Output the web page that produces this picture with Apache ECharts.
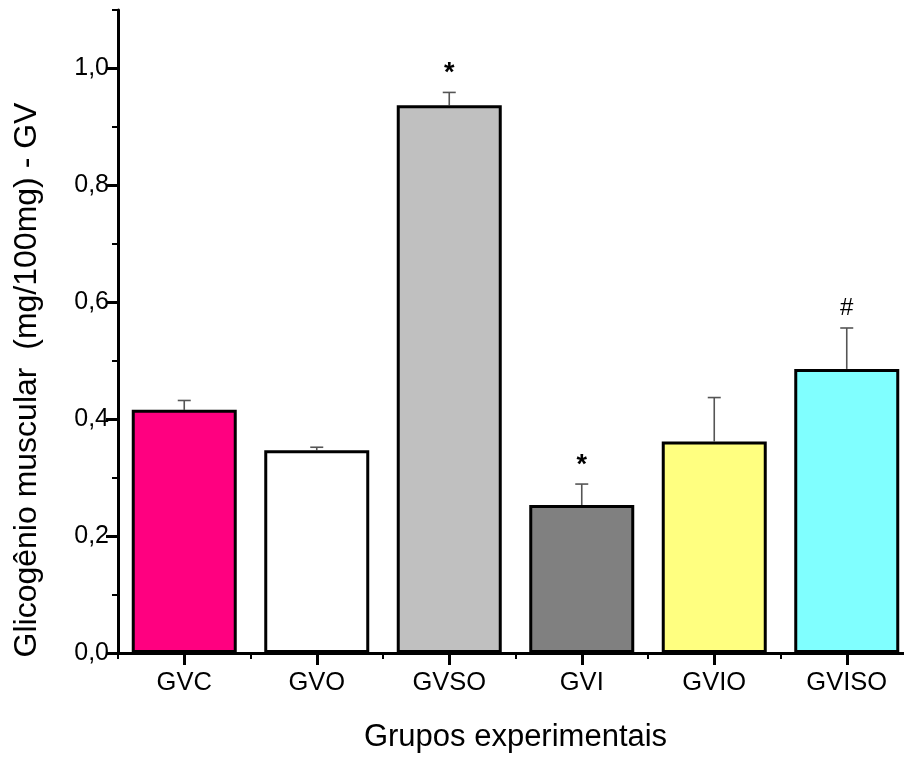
<!DOCTYPE html>
<html>
<head>
<meta charset="utf-8">
<script src="https://cdn.jsdelivr.net/npm/echarts@6/dist/echarts.min.js"></script>
<style>
html, body { margin: 0; padding: 0; background: #fff; overflow: hidden; }
#chart { width: 913px; height: 758px; }
</style>
</head>
<body>
<div id="chart"></div>
<script>
var grupos = ['GVC', 'GVO', 'GVSO', 'GVI', 'GVIO', 'GVISO'];
var medias = [0.416, 0.347, 0.937, 0.253, 0.362, 0.486];
var erros = [0.016, 0.005, 0.022, 0.036, 0.075, 0.070];
var marcas = ['', '', '*', '*', '', '#'];
var cores = ['#ff0080', '#ffffff', '#c0c0c0', '#808080', '#ffff80', '#80ffff'];
var ticksMaiores = [0, 0.2, 0.4, 0.6, 0.8, 1.0];
var ticksMenores = [0.1, 0.3, 0.5, 0.7, 0.9, 1.1];

var fonte = '"Liberation Sans", Arial, sans-serif';
// a area do grafico passa um pouco da borda direita, como no original
var chart = echarts.init(document.getElementById('chart'));

var barData = [];
for (var i = 0; i < medias.length; i++) {
	barData.push({
		value: medias[i],
		itemStyle: { color: cores[i] }
	});
}
var errData = [];
for (var j = 0; j < medias.length; j++) {
	errData.push([j, medias[j], medias[j] + erros[j], marcas[j]]);
}

var option = {
	animation: false,
	backgroundColor: '#fff',
	textStyle: { fontFamily: fonte },
	grid: { left: 118, top: 10, right: 0, bottom: 103 },
	graphic: [{
		type: 'text',
		x: 27,
		y: 380,
		rotation: Math.PI / 2,
		style: {
			text: 'Glicogênio muscular  (mg/100mg) - GV',
			font: '32px ' + fonte,
			fill: '#000',
			align: 'center',
			verticalAlign: 'middle'
		}
	}],
	xAxis: [{
		type: 'category',
		data: grupos,
		position: 'bottom',
		axisLine: { lineStyle: { color: '#000', width: 3 } },
		axisTick: { show: true, alignWithLabel: false, length: 6, lineStyle: { color: '#000', width: 2 } },
		axisLabel: { show: false },
		splitLine: { show: false }
	}, {
		type: 'category',
		data: grupos,
		position: 'bottom',
		axisLine: { show: false },
		axisTick: { show: true, alignWithLabel: true, length: 12, lineStyle: { color: '#000', width: 3 } },
		axisLabel: { fontSize: 25.5, color: '#000', margin: 17, fontFamily: fonte },
		name: 'Grupos experimentais',
		nameLocation: 'middle',
		nameGap: 69,
		nameTextStyle: { fontSize: 31, color: '#000', fontFamily: fonte },
		splitLine: { show: false }
	}],
	yAxis: [{
		type: 'value',
		min: 0,
		max: 1.1,
		axisLine: { show: true, lineStyle: { color: '#000', width: 3 } },
		axisTick: { show: true, customValues: ticksMenores, length: 6, lineStyle: { color: '#000', width: 2 } },
		axisLabel: {
			customValues: ticksMaiores,
			fontSize: 25,
			color: '#000',
			margin: 9,
			fontFamily: fonte,
			formatter: function(v) {
				return v.toFixed(1).replace('.', ',');
			}
		},
		splitLine: { show: false }
	}, {
		type: 'value',
		min: 0,
		max: 1.1,
		position: 'left',
		axisLine: { show: false },
		axisTick: { show: true, customValues: ticksMaiores, length: 12, lineStyle: { color: '#000', width: 3 } },
		axisLabel: { show: false },
		splitLine: { show: false }
	}],
	series: [{
		name: 'media',
		type: 'bar',
		xAxisIndex: 0,
		yAxisIndex: 0,
		barWidth: 105,
		itemStyle: { borderColor: '#000', borderWidth: 3 },
		data: barData,
		z: 2
	}, {
		name: 'erro',
		type: 'custom',
		xAxisIndex: 0,
		yAxisIndex: 0,
		z: 1,
		renderItem: function(params, api) {
			var base = api.coord([api.value(0), api.value(1)]);
			var topo = api.coord([api.value(0), api.value(2)]);
			var marca = api.value(3);
			var cap = 6.5;
			var filhos = [{
				type: 'line',
				shape: { x1: base[0], y1: base[1], x2: topo[0], y2: topo[1] },
				style: { stroke: '#555', lineWidth: 1.6 }
			}, {
				type: 'line',
				shape: { x1: topo[0] - cap, y1: topo[1], x2: topo[0] + cap, y2: topo[1] },
				style: { stroke: '#555', lineWidth: 1.6 }
			}];
			if (marca) {
				filhos.push({
					type: 'text',
					x: topo[0],
					y: topo[1] - (marca === '*' ? 19 : 20),
					style: {
						text: marca,
						font: (marca === '*' ? 'bold 27px ' : '24px ') + fonte,
						fill: '#000',
						align: 'center',
						verticalAlign: 'middle'
					}
				});
			}
			return { type: 'group', children: filhos };
		},
		encode: { x: 0, y: [1, 2] },
		data: errData
	}]
};
chart.setOption(option);
</script>
</body>
</html>
